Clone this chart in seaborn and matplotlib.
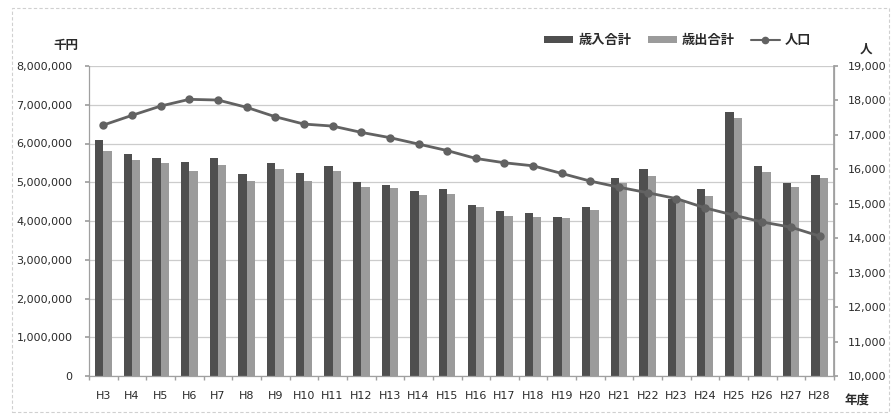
import numpy as np
import pandas as pd
import matplotlib
matplotlib.use("Agg")
import matplotlib.pyplot as plt
from matplotlib.patches import Patch, Rectangle
from matplotlib.lines import Line2D
from matplotlib.ticker import FuncFormatter, MultipleLocator, FixedLocator
import seaborn as sns

# ---- data ----
years = [f"H{i}" for i in range(3, 29)]
revenue = [6080000, 5740000, 5630000, 5520000, 5620000, 5210000, 5490000, 5240000,
           5420000, 5010000, 4940000, 4780000, 4820000, 4420000, 4260000, 4200000,
           4100000, 4350000, 5110000, 5330000, 4580000, 4820000, 6810000, 5420000,
           4970000, 5200000]
expenditure = [5810000, 5580000, 5500000, 5290000, 5450000, 5040000, 5330000, 5030000,
               5290000, 4880000, 4840000, 4680000, 4690000, 4350000, 4130000, 4100000,
               4080000, 4280000, 4980000, 5170000, 4540000, 4640000, 6670000, 5260000,
               4880000, 5120000]
population = [17285, 17567, 17837, 18032, 18012, 17800, 17527, 17314, 17256, 17073,
              16920, 16733, 16545, 16316, 16190, 16102, 15880, 15657, 15480, 15320,
              15150, 14880, 14670, 14470, 14320, 14060]
series_names = ["歳入合計", "歳出合計"]
pop_name = "人口"

sns.set_theme(style="white")
jp = ["Noto Sans CJK JP", "DejaVu Sans"]
plt.rcParams["font.family"] = ["DejaVu Sans", "Noto Sans CJK JP"]

df = pd.DataFrame({
    "year": years * 2,
    "value": revenue + expenditure,
    "kind": [series_names[0]] * len(years) + [series_names[1]] * len(years),
})

dark = "#4f4f4f"
light = "#9b9b9b"
linec = "#626262"
txt = "#2a2a2a"
gridc = "#cccccc"

fig = plt.figure(figsize=(8.91, 4.16), dpi=100)
ax = fig.add_axes([89 / 891, 1 - 376 / 416, (834 - 89) / 891, (376 - 66) / 416])

sns.barplot(data=df, x="year", y="value", hue="kind", order=years,
            hue_order=series_names, palette={series_names[0]: dark, series_names[1]: light},
            width=0.58, saturation=1, ax=ax, legend=False, edgecolor="none")

ax.set_ylim(0, 8000000)
ax.set_xlim(-0.5, len(years) - 0.5)
ax.yaxis.set_major_locator(MultipleLocator(1000000))
ax.yaxis.set_major_formatter(FuncFormatter(lambda v, p: f"{int(v):,}"))
ax.grid(axis="y", color=gridc, linewidth=0.9)
ax.set_axisbelow(True)
ax.set_xlabel("")
ax.set_ylabel("")
ax.spines["top"].set_visible(False)
for s in ["left", "bottom", "right"]:
    ax.spines[s].set_color("#a0a0a0")
    ax.spines[s].set_linewidth(0.9)
ax.tick_params(axis="y", labelsize=8, colors=txt, length=3, color="#a0a0a0", pad=9)
ax.tick_params(axis="x", labelsize=8, colors=txt, length=0, pad=11)
ax.xaxis.set_minor_locator(FixedLocator(np.arange(-0.5, len(years), 1.0)))
ax.tick_params(axis="x", which="minor", length=3, color="#a0a0a0", bottom=True)

ax2 = ax.twinx()
sns.pointplot(x=years, y=population, order=years, ax=ax2, color=linec,
              markers="o", markersize=4.5, linewidth=2.0, errorbar=None)
ax2.set_ylim(10000, 19000)
ax2.set_xlim(-0.5, len(years) - 0.5)
ax2.yaxis.set_major_locator(MultipleLocator(1000))
ax2.yaxis.set_major_formatter(FuncFormatter(lambda v, p: f"{int(v):,}"))
ax2.tick_params(axis="y", labelsize=8, colors=txt, length=3, color="#a0a0a0", pad=7)
ax2.grid(False)
ax2.set_ylabel("")
ax2.spines["top"].set_visible(False)
ax2.spines["left"].set_visible(False)
ax2.spines["bottom"].set_visible(False)
ax2.spines["right"].set_color("#a0a0a0")

fig.text(66 / 891, 1 - 46 / 416, "千円", family=jp, fontsize=9, color=txt,
         ha="center", va="center", fontweight="bold")
fig.text(866 / 891, 1 - 49 / 416, "人", family=jp, fontsize=9, color=txt,
         ha="center", va="center", fontweight="bold")
fig.text(857 / 891, 1 - 400 / 416, "年度", family=jp, fontsize=9, color=txt,
         ha="center", va="center", fontweight="bold")

handles = [Patch(facecolor=dark, edgecolor="none"),
           Patch(facecolor=light, edgecolor="none"),
           Line2D([0], [0], color=linec, marker="o", markersize=4.5, linewidth=1.5)]
fig.legend(handles, series_names + [pop_name], loc="center", ncol=3,
           bbox_to_anchor=(678 / 891, 1 - 40 / 416), frameon=False,
           prop={"family": jp, "size": 9.5, "weight": "bold"},
           handlelength=2.2, handleheight=0.5, handletextpad=0.4, columnspacing=1.2,
           labelcolor=txt)

fig.patches.append(Rectangle((12 / 891, 1 - 412 / 416), (889 - 12) / 891, (412 - 8) / 416,
                             transform=fig.transFigure, fill=False, edgecolor="#d0d0d0",
                             linewidth=0.8, linestyle=(0, (3, 2))))

fig.savefig("out.png", dpi=100, facecolor="white")
